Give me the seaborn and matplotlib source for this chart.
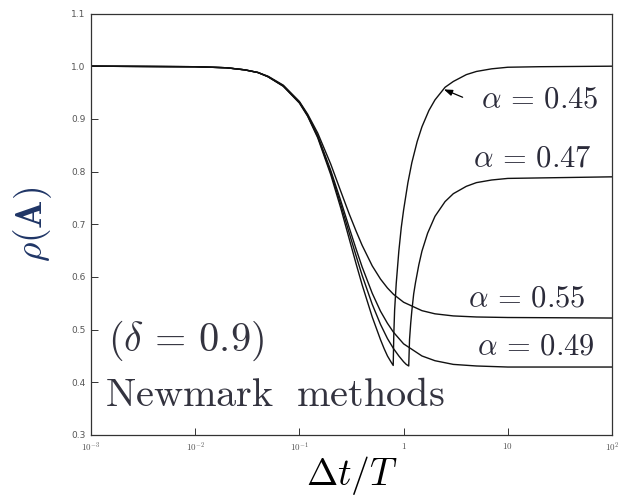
import matplotlib
matplotlib.use('Agg')
import matplotlib.pyplot as plt
import seaborn as sns
import pandas as pd
from matplotlib.ticker import NullLocator

sns.set_style('ticks')
plt.rcParams['mathtext.fontset'] = 'cm'
plt.rcParams['font.family'] = ['DejaVu Sans']

# spectral radius curves (dt/T on log axis)
dt_045 = [0.001, 0.01, 0.02, 0.03, 0.04, 0.05, 0.07, 0.1, 0.12, 0.15, 0.2, 0.25, 0.3, 0.35, 0.4, 0.5,
          0.6, 0.65, 0.7, 0.75, 0.795, 0.805, 0.82, 0.85, 0.9, 0.95, 1.0, 1.1, 1.2, 1.35, 1.5, 1.75, 2, 2.5,
          3, 4, 5, 7, 10, 20, 100]
rho_045 = [1.0, 0.999, 0.997, 0.993, 0.988, 0.980, 0.962, 0.930, 0.905, 0.864, 0.794, 0.730, 0.673, 0.625, 0.585, 0.524,
           0.481, 0.464, 0.450, 0.440, 0.432, 0.490, 0.537, 0.588, 0.649, 0.694, 0.727, 0.779, 0.817, 0.857, 0.885, 0.916, 0.936, 0.960,
           0.971, 0.984, 0.990, 0.995, 0.998, 0.999, 1.0]

dt_047 = [0.001, 0.01, 0.02, 0.03, 0.04, 0.05, 0.07, 0.1, 0.12, 0.15, 0.2, 0.25, 0.3, 0.35, 0.4, 0.5,
          0.6, 0.7, 0.8, 0.9, 1.0, 1.06, 1.12, 1.14, 1.17, 1.2, 1.25, 1.3, 1.4, 1.5, 1.7, 2, 2.5, 3, 4, 5, 7, 10, 100]
rho_047 = [1.0, 0.999, 0.997, 0.993, 0.988, 0.980, 0.962, 0.931, 0.906, 0.866, 0.798, 0.737, 0.684, 0.640, 0.603, 0.548,
           0.510, 0.483, 0.464, 0.450, 0.439, 0.434, 0.431, 0.481, 0.512, 0.536, 0.568, 0.589, 0.623, 0.649, 0.683, 0.715, 0.743, 0.758, 0.772, 0.779, 0.784, 0.787, 0.790]

dt_049 = [0.001, 0.01, 0.02, 0.03, 0.04, 0.05, 0.07, 0.1, 0.12, 0.15, 0.2, 0.25, 0.3, 0.35, 0.4, 0.5,
          0.6, 0.7, 0.8, 1.0, 1.5, 2, 3, 5, 10, 100]
rho_049 = [1.0, 0.999, 0.997, 0.993, 0.988, 0.980, 0.963, 0.932, 0.907, 0.868, 0.802, 0.744, 0.694, 0.653, 0.619, 0.569,
           0.535, 0.512, 0.495, 0.473, 0.450, 0.441, 0.434, 0.431, 0.429, 0.429]

dt_055 = [0.001, 0.01, 0.02, 0.03, 0.04, 0.05, 0.07, 0.1, 0.12, 0.15, 0.2, 0.25, 0.3, 0.35, 0.4, 0.5,
          0.6, 0.7, 0.8, 1.0, 1.5, 2, 3, 5, 10, 100]
rho_055 = [1.0, 0.999, 0.997, 0.993, 0.988, 0.981, 0.964, 0.933, 0.909, 0.873, 0.814, 0.762, 0.720, 0.687, 0.660, 0.621,
           0.596, 0.579, 0.567, 0.552, 0.536, 0.530, 0.526, 0.524, 0.523, 0.522]

alphas = ['0.45', '0.47', '0.49', '0.55']
y_ticks = [0.3, 0.4, 0.5, 0.6, 0.7, 0.8, 0.9, 1.0, 1.1]
x_ticks = [1e-3, 1e-2, 1e-1, 1, 10, 100]
x_tick_labels = ['$10^{-3}$', '$10^{-2}$', '$10^{-1}$', '$1$', '$10$', '$10^{2}$']

frames = []
for a, xs, ys in zip(alphas, [dt_045, dt_047, dt_049, dt_055], [rho_045, rho_047, rho_049, rho_055]):
    frames.append(pd.DataFrame({'dt': xs, 'rho': ys, 'alpha': a}))
df = pd.concat(frames, ignore_index=True)

fig = plt.figure(figsize=(6.18, 4.96), dpi=100, facecolor='white')
ax = fig.add_axes([91 / 618, 1 - 435 / 496, 521 / 618, 421.5 / 496])

sns.lineplot(data=df, x='dt', y='rho', hue='alpha', units='alpha', estimator=None,
             palette=['#111111'] * 4, linewidth=1.0, legend=False, ax=ax)

ax.set_xscale('log')
ax.set_xlim(1e-3, 100)
ax.set_ylim(0.3, 1.1)
ax.set_xticks(x_ticks)
ax.set_xticklabels(x_tick_labels)
ax.xaxis.set_minor_locator(NullLocator())
ax.set_yticks(y_ticks)
ax.set_yticklabels([f'{v:.1f}' for v in y_ticks])
ax.tick_params(direction='in', length=5, width=0.7, labelsize=6.5, colors='#333333',
               labelcolor='#555555', pad=4)
for s in ax.spines.values():
    s.set_linewidth(0.9)
    s.set_color('#333333')

ax.set_xlabel(r'$\Delta t/T$', fontsize=27, color='black', labelpad=0)
ax.set_ylabel(r'$\rho(\mathbf{A})$', fontsize=27, color='#1f3566', labelpad=12)

txt_kw = dict(transform=ax.transAxes, fontsize=22, color='#2b2b3a')
ax.text(0.749, 0.797, r'$\alpha\,=\,0.45$', ha='left', va='center', **txt_kw)
ax.text(0.733, 0.657, r'$\alpha\,=\,0.47$', ha='left', va='center', **txt_kw)
ax.text(0.724, 0.325, r'$\alpha\,=\,0.55$', ha='left', va='center', **txt_kw)
ax.text(0.741, 0.211, r'$\alpha\,=\,0.49$', ha='left', va='center', **txt_kw)

ax.text(0.033, 0.223, r'$(\delta\,=\,0.9)$', transform=ax.transAxes, fontsize=29,
        color='#33333f', ha='left', va='center')
ax.text(0.027, 0.069, r'$\mathrm{Newmark\ \ methods}$', transform=ax.transAxes, fontsize=29,
        color='#33333f', ha='left', va='baseline')

ax.annotate('', xy=(2.3, 0.958), xytext=(3.9, 0.939),
            arrowprops=dict(arrowstyle='-|>,head_length=0.5,head_width=0.18', color='black', lw=0.9))

fig.savefig('out.png', dpi=100, facecolor='white')
